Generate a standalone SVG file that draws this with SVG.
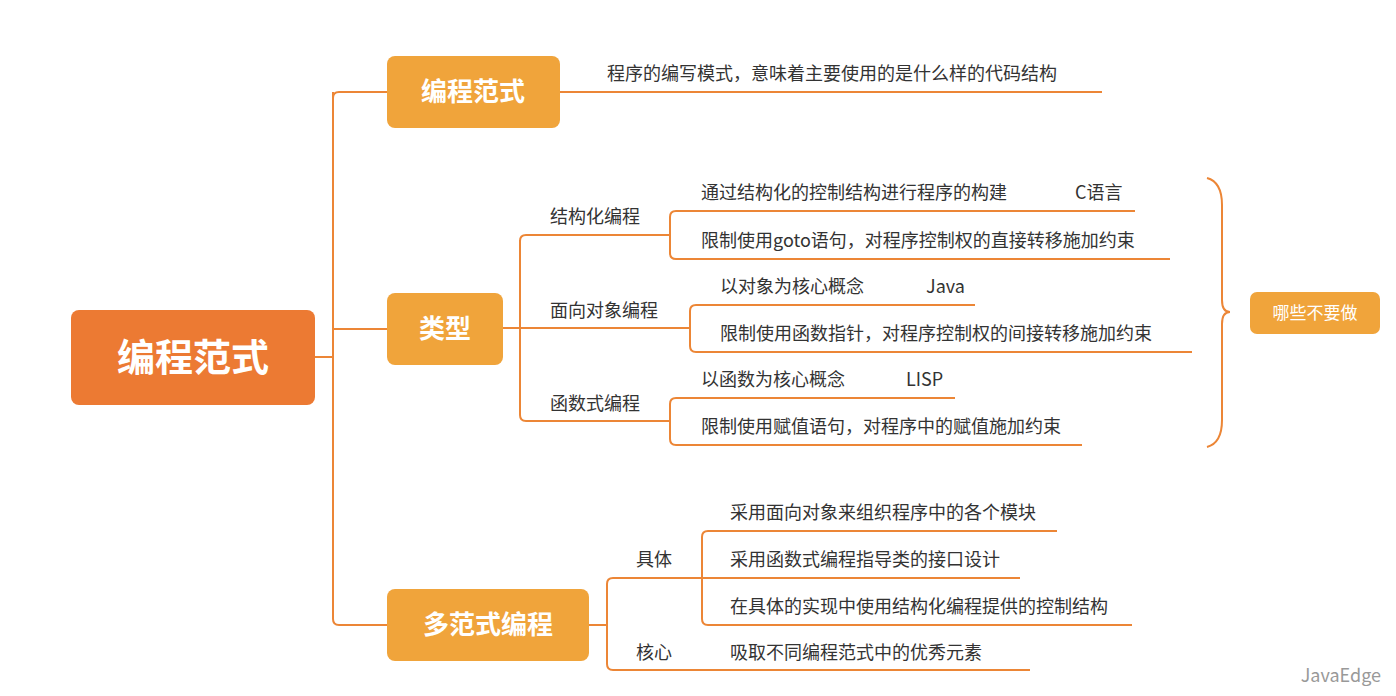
<svg xmlns="http://www.w3.org/2000/svg" width="1396" height="696" viewBox="0 0 1396 696">
<style>
text{font-family:"Noto Sans CJK SC","Noto Sans",sans-serif;fill:#333}
.t{font-size:18px}
.b{fill:#F0A43B}
.bt{fill:#fff;font-size:26px;font-weight:bold}
.c{fill:none;stroke:#EC8636;stroke-width:2}
</style>
<rect width="1396" height="696" fill="#fff"/>
<g id="connectors">
<path class="c" d="M315 357H333M333 98Q333 92 339 92H387M333 92V619Q333 625 339 625H387M333 329H387"/>
<path class="c" d="M560 92H1102"/>
<path class="c" d="M503 328H520M520 241Q520 235 526 235H670V217Q670 211 676 211H1135M670 229V253Q670 259 676 259H1170M520 240V415Q520 421 526 421H670V404Q670 398 676 398H955M670 415V439Q670 445 676 445H1082M520 328H690V311Q690 305 696 305H975M690 322V346Q690 352 696 352H1192"/>
<path class="c" d="M589 625H607M607 584Q607 578 613 578H702V537Q702 531 708 531H1057M702 578H1020M702 572V619Q702 625 708 625H1132M607 584V664Q607 670 613 670H1030"/>
<path class="c" d="M1207 178Q1222 182 1222 205V300Q1222 312 1230 312Q1222 312 1222 324V420Q1222 443 1207 447"/>
</g>
<g id="root"><rect x="71" y="310" width="244" height="95" rx="8" fill="#EC7A33"/><text x="193" y="371" text-anchor="middle" style="fill:#fff;font-size:38px;font-weight:bold">编程范式</text></g>
<g id="n1"><rect class="b" x="387" y="56" width="173" height="72" rx="8"/><text class="bt" x="473" y="101" text-anchor="middle">编程范式</text></g>
<g id="n2"><rect class="b" x="387" y="293" width="116" height="72" rx="8"/><text class="bt" x="445" y="338" text-anchor="middle">类型</text></g>
<g id="n3"><rect class="b" x="387" y="589" width="202" height="72" rx="8"/><text class="bt" x="488" y="634" text-anchor="middle">多范式编程</text></g>
<g id="n4"><rect class="b" x="1250" y="292" width="130" height="42" rx="7"/><text x="1315" y="319" text-anchor="middle" style="fill:#fff;font-size:17px">哪些不要做</text></g>
<g id="labels" class="t">
<text class="t" x="607" y="80">程序的编写模式，意味着主要使用的是什么样的代码结构</text>
<text class="t" x="550" y="223">结构化编程</text>
<text class="t" x="701" y="199">通过结构化的控制结构进行程序的构建</text>
<text class="t" x="1075" y="199">C语言</text>
<text class="t" x="701" y="247">限制使用goto语句，对程序控制权的直接转移施加约束</text>
<text class="t" x="550" y="317">面向对象编程</text>
<text class="t" x="720" y="293">以对象为核心概念</text>
<text class="t" x="926" y="293">Java</text>
<text class="t" x="720" y="340">限制使用函数指针，对程序控制权的间接转移施加约束</text>
<text class="t" x="550" y="410">函数式编程</text>
<text class="t" x="701" y="386">以函数为核心概念</text>
<text class="t" x="906" y="386">LISP</text>
<text class="t" x="701" y="433">限制使用赋值语句，对程序中的赋值施加约束</text>
<text class="t" x="636" y="566">具体</text>
<text class="t" x="636" y="659">核心</text>
<text class="t" x="730" y="519">采用面向对象来组织程序中的各个模块</text>
<text class="t" x="730" y="566">采用函数式编程指导类的接口设计</text>
<text class="t" x="730" y="613">在具体的实现中使用结构化编程提供的控制结构</text>
<text class="t" x="730" y="659">吸取不同编程范式中的优秀元素</text>
</g>
<text x="1381" y="682" text-anchor="end" style="fill:#999;font-size:18px">JavaEdge</text>
</svg>
